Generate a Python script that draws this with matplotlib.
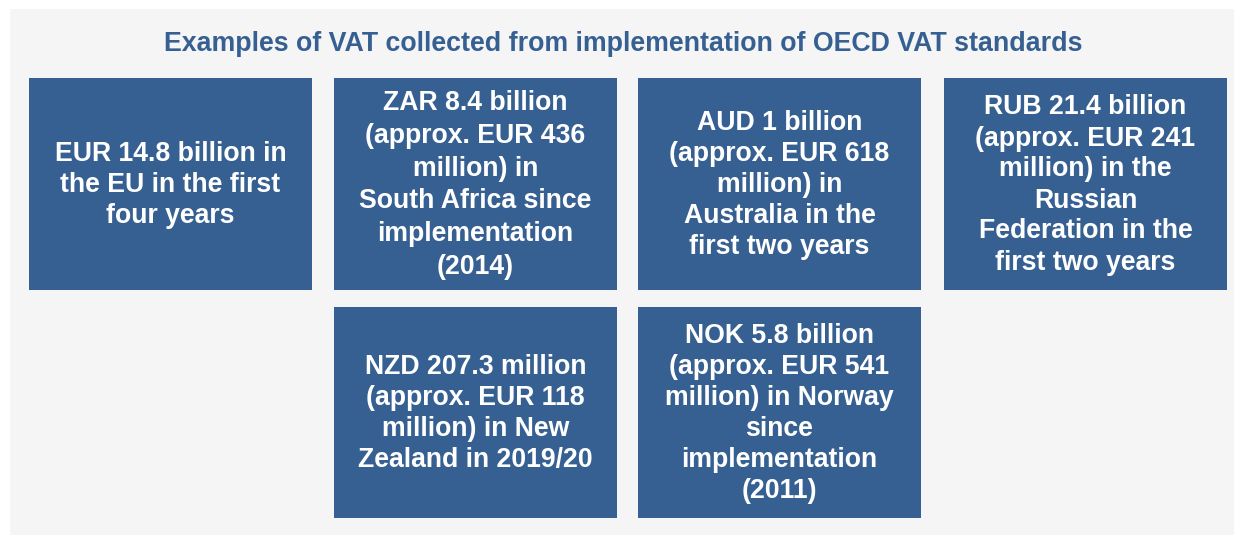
import matplotlib.pyplot as plt
from matplotlib.patches import Rectangle

# ---- data ----
title = "Examples of VAT collected from implementation of OECD VAT standards"
box_texts = [
    "EUR 14.8 billion in\nthe EU in the first\nfour years",
    "ZAR 8.4 billion\n(approx. EUR 436\nmillion) in\nSouth Africa since\nimplementation\n(2014)",
    "AUD 1 billion\n(approx. EUR 618\nmillion) in\nAustralia in the\nfirst two years",
    "RUB 21.4 billion\n(approx. EUR 241\nmillion) in the\nRussian\nFederation in the\nfirst two years",
    "NZD 207.3 million\n(approx. EUR 118\nmillion) in New\nZealand in 2019/20",
    "NOK 5.8 billion\n(approx. EUR 541\nmillion) in Norway\nsince\nimplementation\n(2011)",
]
# grid slot (row, column) of each box
box_slots = [(0, 0), (0, 1), (0, 2), (0, 3), (1, 1), (1, 2)]

# ---- layout (pixels) ----
W, H = 1234, 535
BOX_BLUE = "#366092"
PANEL = "#f5f5f5"
col_x = [29, 334, 638, 944]
box_w = 283
row_y = [78, 307]
row_h = [212, 211]
# the source text boxes do not share one line spacing
line_sp = [1.23, 1.34, 1.25, 1.25, 1.25, 1.25]

plt.rcParams['font.family'] = ['Liberation Sans', 'DejaVu Sans']

fig = plt.figure(figsize=(W / 100, H / 100), dpi=100)
ax = fig.add_axes([0, 0, 1, 1])
ax.set_xlim(0, W)
ax.set_ylim(H, 0)
ax.axis('off')

# grey panel
ax.add_patch(Rectangle((10, 9), W - 10, H - 9, facecolor=PANEL, edgecolor='none'))

ax.text(623, 44, title, ha='center', va='center', fontsize=19.3,
        fontweight='bold', color=BOX_BLUE)

for text, (r, c), ls in zip(box_texts, box_slots, line_sp):
    x0, y0, h = col_x[c], row_y[r], row_h[r]
    ax.add_patch(Rectangle((x0, y0), box_w, h, facecolor=BOX_BLUE, edgecolor='none'))
    ax.text(x0 + box_w / 2, y0 + h / 2 + 1, text, ha='center', va='center',
            fontsize=19.2, fontweight='bold', color='white', linespacing=ls)

fig.savefig("out.png", dpi=100)
